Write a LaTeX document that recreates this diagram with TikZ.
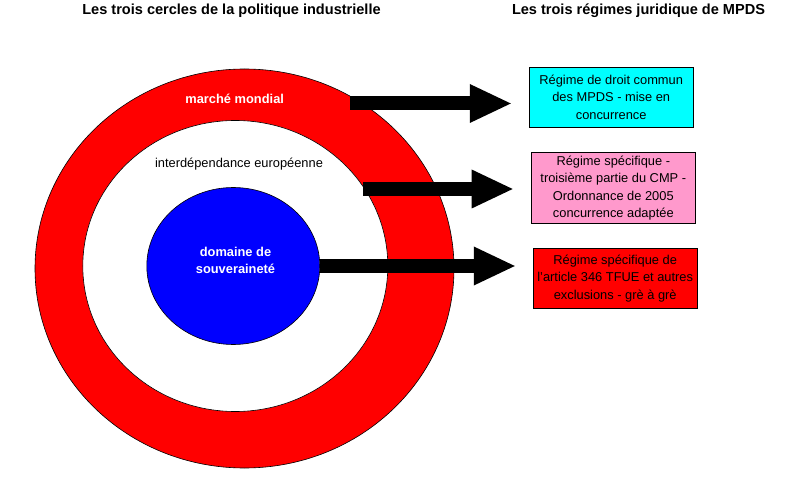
\documentclass[tikz,border=0pt]{standalone}
\usepackage{fontspec}
\setmainfont{Liberation Sans}
\usetikzlibrary{shapes.geometric,arrows.meta}
\definecolor{pinkbox}{HTML}{FF99CC}
\definecolor{cyanbox}{HTML}{00FFFF}
\definecolor{redfill}{HTML}{FF0000}
\definecolor{bluefill}{HTML}{0000FF}
\begin{document}
\begin{tikzpicture}
  [x=1bp,y=-1bp,
   ring/.style={ellipse,draw=black,line width=.6bp,inner sep=0pt},
   regime/.style={rectangle,draw=black,line width=.8bp,minimum width=164bp,minimum height=60bp,
                  inner sep=0pt,align=center,font=\fontsize{12.9}{17.5}\selectfont},
   heading/.style={font=\fontsize{14.6}{17}\selectfont\bfseries},
   bigarrow/.style={line width=14bp,-{Triangle[length=41bp,width=39bp,line width=0pt]},shorten >=18bp}]
  \useasboundingbox (0,0) rectangle (799,486);

  \node (t1) [heading] at (231.5,11) {Les trois cercles de la politique industrielle};
  \node (t2) [heading] at (638.5,11) {Les trois régimes juridique de MPDS};

  % cercles
  \node (world) [ring,fill=redfill,minimum width=419bp,minimum height=399bp] at (244.5,268.5) {};
  \node (europe) [ring,fill=white,minimum width=305bp,minimum height=291bp] at (235.3,266) {};
  \node (sov) [ring,fill=bluefill,minimum width=173bp,minimum height=157bp] at (233.3,266) {};
  \node (lworld) [text=white,font=\fontsize{12.9}{17}\selectfont\bfseries] at (234.7,98.5) {marché mondial};
  \node (leurope) [font=\fontsize{12.9}{17}\selectfont] at (239,164.5) {interdépendance européenne};
  \node (lsov) [text=white,align=center,font=\fontsize{12.9}{17}\selectfont\bfseries] at (235.5,260) {domaine de\\souveraineté};

  % regimes
  \node (b1) [regime,fill=cyanbox] at (611.2,97.3) {Régime de droit commun\\des MPDS - mise en\\concurrence};
  \node (b2) [regime,fill=pinkbox,minimum width=164.5bp,minimum height=71.5bp] at (613.3,188) {Régime spécifique -\\troisième partie du CMP -\\Ordonnance de 2005\\concurrence adaptée};
  \node (b3) [regime,fill=redfill] at (615.2,278.3) {Régime spécifique de\\l'article 346 TFUE et autres\\exclusions - grè à grè};

  \coordinate (s1) at (350,103.5);
  \coordinate (s2) at (363,189);

  \foreach \from/\to in {s1/b1,s2/b2,sov.east/b3}
    \draw[bigarrow] (\from) -- (\from -| \to.west);

\end{tikzpicture}
\end{document}
